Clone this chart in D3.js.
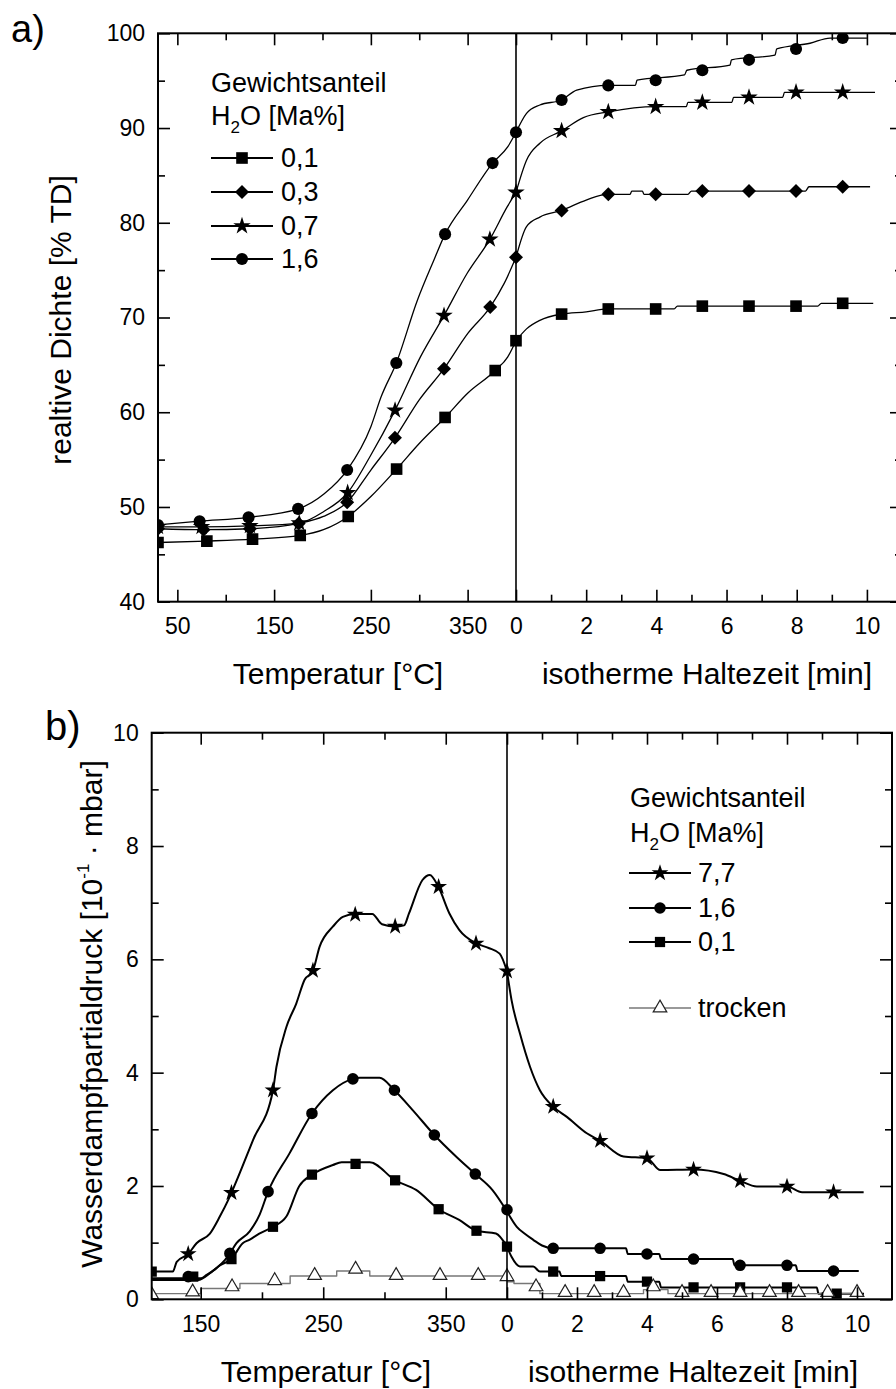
<!DOCTYPE html>
<html>
<head>
<meta charset="utf-8">
<script src="https://cdn.jsdelivr.net/npm/d3@7"></script>
<style>
  body { margin: 0; background: #fff; }
  text { font-family: Arial, "Liberation Sans", sans-serif; fill: #000; }
</style>
</head>
<body>
<div id="chart"></div>
<script>
// ---------- panel a: relative density ----------
const aTempTicks = [50, 150, 250, 350];
const aTempMinor = [100, 200, 300];
const aTimeTicks = [0, 2, 4, 6, 8, 10];
const aTimeMinor = [1, 3, 5, 7, 9];
const aYTicks = [40, 50, 60, 70, 80, 90, 100];
const aYMinor = [45, 55, 65, 75, 85, 95];
const aNames = ["0,1", "0,3", "0,7", "1,6"];

const a01Temp = [[30,46.25],[80,46.4],[128,46.6],[177,47.0],[201,47.6],[226.6,49.0],[250,51.1],[276.6,54.0],[300,56.7],[326.7,59.45],[350,62.0],[378.5,64.4],[391.5,65.85],[400,67.55]];
const a01Time = [[0,67.55],[0.3,68.8],[0.68,69.7],[1.3,70.36],[2,70.6],[2.6,70.9],[4.5,70.9],[4.6,71.2],[8.6,71.2],[8.7,71.5],[10.18,71.5]];
const a01TempMarks = [[30,46.25],[80.5,46.4],[127.7,46.6],[177,47.0],[226.6,49.0],[276.6,54.0],[326.7,59.45],[378.5,64.4]];
const a01TimeMarks = [[0,67.55],[1.3,70.36],[2.63,70.9],[3.98,70.9],[5.31,71.2],[6.64,71.2],[7.98,71.2],[9.31,71.5]];

const a03Temp = [[30,47.7],[77,47.6],[125,47.7],[175.4,48.26],[201,49.0],[225.5,50.5],[250,53.9],[274.9,57.3],[300,61.3],[325.6,64.6],[350,68.3],[373.3,71.1],[387.8,73.6],[400,76.35]];
const a03Time = [[0,76.35],[0.3,79.6],[0.68,80.6],[1.3,81.3],[2,82.4],[2.6,83.0],[3.25,83.0],[3.3,83.35],[3.6,83.35],[3.65,83.0],[4.9,83.0],[5.0,83.35],[8.25,83.35],[8.35,83.8],[10.09,83.8]];
const a03TempMarks = [[30,47.7],[77,47.6],[125,47.7],[175.4,48.26],[225.5,50.5],[274.9,57.3],[325.6,64.6],[373.3,71.1]];
const a03TimeMarks = [[0,76.35],[1.3,81.3],[2.63,83.0],[3.98,83.0],[5.31,83.35],[6.64,83.35],[7.98,83.35],[9.31,83.8]];

const a07Temp = [[30,47.9],[75,47.9],[125,48.0],[176,48.3],[201,49.5],[226,51.5],[249,55.3],[275,60.2],[301.5,65.9],[325.6,70.2],[349.7,74.7],[373,78.25],[391,81.7],[400,83.2]];
const a07Time = [[0,83.2],[0.3,86.6],[0.68,88.4],[1.3,89.7],[1.92,91.1],[2.63,91.7],[3.98,92.25],[4.85,92.25],[4.9,92.7],[6.15,92.7],[6.2,93.24],[7.6,93.24],[7.65,93.77],[10.23,93.77]];
const a07TempMarks = [[30,47.9],[75,47.9],[125,48.0],[176,48.3],[226,51.5],[275,60.2],[325.6,70.2],[373,78.25]];
const a07TimeMarks = [[0,83.2],[1.3,89.7],[2.63,91.7],[3.98,92.25],[5.31,92.7],[6.64,93.24],[7.98,93.77],[9.31,93.77]];

const a16Temp = [[30,48.1],[73,48.5],[123.6,48.9],[174.8,49.8],[201.8,51.4],[225.5,53.9],[250.1,58.5],[260.5,61.6],[276.3,65.2],[298,71.8],[315.3,76.1],[326.7,78.8],[349.9,82.4],[375.8,86.3],[391.4,88.0],[400,89.55]];
const a16Time = [[0,89.55],[0.3,91.55],[0.68,92.43],[1.3,92.96],[1.73,94.0],[2.63,94.5],[3.4,94.5],[3.45,95.05],[4.8,95.6],[4.87,96.1],[6.1,96.65],[6.14,97.2],[7.38,97.7],[7.43,98.35],[8.38,98.95],[8.95,99.5],[10.0,99.5]];
const a16TempMarks = [[30,48.1],[73,48.5],[123.6,48.9],[174.8,49.8],[225.5,53.9],[276.3,65.2],[326.7,78.8],[375.8,86.3]];
const a16TimeMarks = [[0,89.55],[1.3,92.96],[2.63,94.5],[3.98,95.05],[5.31,96.1],[6.64,97.2],[7.98,98.35],[9.31,99.5]];

// ---------- panel b: water vapour partial pressure ----------
const bTempTicks = [150, 250, 350];
const bTempMinor = [200, 300];
const bTimeTicks = [0, 2, 4, 6, 8, 10];
const bTimeMinor = [1, 3, 5, 7, 9];
const bYTicks = [0, 2, 4, 6, 8, 10];
const bYMinor = [1, 3, 5, 7, 9];
const bNames = ["7,7", "1,6", "0,1", "trocken"];

const b77Temp = [[110,0.49],[127.3,0.49],[130.4,0.66],[139.8,0.8],[146.6,0.99],[157.5,1.16],[165.6,1.46],[172.4,1.75],[175.1,1.88],[192.7,2.81],[209,3.69],[211.8,4.1],[220,4.81],[228,5.22],[234.8,5.64],[241.6,5.8],[247,6.22],[258,6.58],[266,6.75],[276,6.8],[290,6.8],[298,6.62],[309,6.58],[316,6.6],[320,6.81],[331,7.4],[337,7.49],[344,7.28],[353,6.81],[361,6.52],[375,6.28],[385,6.2],[394,6.1],[400,5.79]];
const b77Time = [[0,5.79],[0.13,5.28],[0.37,4.69],[0.66,4.1],[0.94,3.69],[1.32,3.40],[1.71,3.22],[2.28,2.93],[2.66,2.80],[3.33,2.52],[4.0,2.49],[4.38,2.28],[5.33,2.29],[6.19,2.21],[6.66,2.09],[7.14,1.99],[8.0,1.99],[8.43,1.89],[9.33,1.89],[10.19,1.89]];
const b77TempMarks = [[139.8,0.8],[175.1,1.88],[209,3.69],[241.6,5.8],[276.1,6.79],[308.7,6.58],[344.2,7.28],[374.7,6.28]];
const b77TimeMarks = [[0,5.79],[1.32,3.40],[2.66,2.80],[4.0,2.49],[5.33,2.29],[6.66,2.09],[8.0,1.99],[9.33,1.89]];

const b16Temp = [[110,0.37],[150,0.37],[154.8,0.43],[162.9,0.55],[169.7,0.69],[173.8,0.81],[179.2,0.99],[190,1.2],[198.2,1.5],[205,1.9],[222.6,2.58],[240.8,3.28],[257.9,3.69],[274.2,3.89],[280,3.91],[296,3.91],[308.1,3.69],[323,3.34],[340.7,2.9],[358.4,2.52],[374.1,2.21],[388,1.93],[400,1.55]];
const b16Time = [[0,1.55],[0.28,1.28],[0.5,1.16],[0.75,1.05],[1.0,0.95],[1.32,0.9],[3.4,0.9],[3.45,0.8],[4.35,0.8],[4.4,0.71],[6.45,0.71],[6.5,0.6],[8.25,0.6],[8.3,0.5],[10.05,0.5]];
const b16TempMarks = [[139.8,0.4],[173.8,0.81],[205,1.9],[240.8,3.28],[274.2,3.89],[308.1,3.69],[340.7,2.9],[374.1,2.21]];
const b16TimeMarks = [[0,1.58],[1.32,0.9],[2.66,0.9],[4.0,0.8],[5.33,0.71],[6.66,0.6],[8.0,0.6],[9.33,0.5]];

const b01Temp = [[110,0.34],[148,0.34],[157.5,0.46],[165.6,0.6],[175.1,0.71],[184.3,0.99],[189.7,1.05],[197.8,1.16],[209,1.28],[219.9,1.46],[230.5,2.0],[240.8,2.2],[257.9,2.37],[265,2.42],[288,2.42],[308.7,2.1],[325.8,1.93],[344.2,1.59],[361,1.4],[375.1,1.21],[391,1.16],[400,0.93]];
const b01Time = [[0,0.93],[0.13,0.75],[0.37,0.58],[0.75,0.58],[0.94,0.49],[1.5,0.49],[1.55,0.41],[3.4,0.41],[3.45,0.31],[4.35,0.31],[4.4,0.21],[8.85,0.21],[8.9,0.1],[10.2,0.1]];
const b01TempMarks = [[110,0.49],[143.9,0.4],[175.1,0.71],[209,1.28],[240.8,2.2],[276.4,2.39],[308.7,2.1],[344.2,1.59],[375.1,1.21]];
const b01TimeMarks = [[0,0.93],[1.32,0.49],[2.66,0.41],[4.0,0.31],[5.33,0.21],[6.66,0.21],[8.0,0.21],[9.42,0.1]];

const bDryTemp = [[110,0.1],[150,0.19],[182,0.28],[223,0.41],[261,0.5],[288,0.41],[400,0.41]];
const bDryTime = [[0,0.31],[0.2,0.28],[0.94,0.1],[3.9,0.17],[4.6,0.1],[10.1,0.1]];
const bDryTempMarks = [[110,0.08],[143.4,0.13],[175.6,0.22],[210.4,0.33],[243,0.42],[276.4,0.53],[309.5,0.42],[345.3,0.42],[376.5,0.42]];
const bDryTimeMarks = [[0,0.4],[0.83,0.22],[1.66,0.12],[2.49,0.12],[3.33,0.12],[4.18,0.22],[5.0,0.12],[5.83,0.12],[6.66,0.12],[7.5,0.12],[8.33,0.12],[9.16,0.12],[10.0,0.12]];

const W = 896, H = 1389;
const FONT = 'Arial, "Liberation Sans", sans-serif';

const svg = d3.select("#chart").append("svg")
    .attr("width", W)
    .attr("height", H)
    .style("display", "block");

svg.append("rect").attr("width", W).attr("height", H).attr("fill", "#fff");

const symbolTypes = {
    square: d3.symbolSquare,
    diamond: d3.symbolSquare,
    star: d3.symbolStar,
    circle: d3.symbolCircle,
    triangle: d3.symbolTriangle
};

function AddMarker(g, shape, x, y, size) {
    const p = g.append("path")
        .attr("d", d3.symbol().type(symbolTypes[shape]).size(size)())
        .attr("transform", `translate(${x},${y})` + (shape === "diamond" ? " rotate(45)" : ""));
    if (shape === "triangle") {
        p.attr("fill", "#fff").attr("stroke", "#222").attr("stroke-width", 1.2);
    } else {
        p.attr("fill", "#000");
    }
};

function StyleAxis(g, fontSize) {
    g.select(".domain").remove();
    g.selectAll(".tick line").attr("stroke", "#000").attr("stroke-width", 1.6);
    g.selectAll(".tick text").attr("font-size", fontSize).attr("font-family", FONT).attr("fill", "#000");
};

function DrawTicks(g, axis, transform, fontSize) {
    g.append("g")
        .attr("transform", transform)
        .call(axis)
        .call(a => StyleAxis(a, fontSize));
};

function DrawPanel(p) {
    const xT = d3.scaleLinear().domain(p.tempDomain).range([p.left, p.div]);
    const xt = d3.scaleLinear().domain(p.timeDomain).range([p.div, p.right]);
    const y = d3.scaleLinear().domain(p.yDomain).range([p.bottom, p.top]);

    const g = svg.append("g");
    const clipId = "clip-" + p.id;
    svg.append("clipPath").attr("id", clipId)
        .append("rect")
        .attr("x", p.left).attr("y", p.top)
        .attr("width", p.right - p.left).attr("height", p.bottom - p.top);

    const plot = g.append("g").attr("clip-path", `url(#${clipId})`);

    p.series.forEach(s => {
        const lineT = d3.line().x(d => xT(d[0])).y(d => y(d[1])).curve(s.curve);
        const linet = d3.line().x(d => xt(d[0])).y(d => y(d[1])).curve(s.curve);
        [lineT(s.tempLine), linet(s.timeLine)].forEach(d => {
            plot.append("path")
                .attr("d", d)
                .attr("fill", "none")
                .attr("stroke", s.color)
                .attr("stroke-width", s.width)
                .attr("stroke-linejoin", "round");
        });
    });

    p.series.forEach(s => {
        s.tempMarks.forEach(d => AddMarker(plot, s.shape, xT(d[0]), y(d[1]), s.size));
        s.timeMarks.forEach(d => AddMarker(plot, s.shape, xt(d[0]), y(d[1]), s.size));
    });

    const fs = p.tickFont;
    // bottom axes with labels, ticks pointing inwards
    DrawTicks(g, d3.axisBottom(xT).tickValues(p.tempTicks).tickSize(-12).tickPadding(16), `translate(0,${p.bottom})`, fs);
    DrawTicks(g, d3.axisBottom(xT).tickValues(p.tempMinor).tickSize(-7).tickFormat(""), `translate(0,${p.bottom})`, fs);
    DrawTicks(g, d3.axisBottom(xt).tickValues(p.timeTicks).tickSize(-12).tickPadding(16), `translate(0,${p.bottom})`, fs);
    DrawTicks(g, d3.axisBottom(xt).tickValues(p.timeMinor).tickSize(-7).tickFormat(""), `translate(0,${p.bottom})`, fs);
    // top mirror
    DrawTicks(g, d3.axisTop(xT).tickValues(p.tempTicks).tickSize(-12).tickFormat(""), `translate(0,${p.top})`, fs);
    DrawTicks(g, d3.axisTop(xT).tickValues(p.tempMinor).tickSize(-7).tickFormat(""), `translate(0,${p.top})`, fs);
    DrawTicks(g, d3.axisTop(xt).tickValues(p.timeTicks).tickSize(-12).tickFormat(""), `translate(0,${p.top})`, fs);
    DrawTicks(g, d3.axisTop(xt).tickValues(p.timeMinor).tickSize(-7).tickFormat(""), `translate(0,${p.top})`, fs);
    // left / right
    DrawTicks(g, d3.axisLeft(y).tickValues(p.yTicks).tickSize(-12).tickPadding(13), `translate(${p.left},0)`, fs);
    DrawTicks(g, d3.axisLeft(y).tickValues(p.yMinor).tickSize(-7).tickFormat(""), `translate(${p.left},0)`, fs);
    DrawTicks(g, d3.axisRight(y).tickValues(p.yTicks).tickSize(-12).tickFormat(""), `translate(${p.right},0)`, fs);
    DrawTicks(g, d3.axisRight(y).tickValues(p.yMinor).tickSize(-7).tickFormat(""), `translate(${p.right},0)`, fs);

    // frame and divider between heating and isothermal part
    g.append("rect")
        .attr("x", p.left).attr("y", p.top)
        .attr("width", p.right - p.left).attr("height", p.bottom - p.top)
        .attr("fill", "none").attr("stroke", "#000").attr("stroke-width", 2);
    g.append("line")
        .attr("x1", p.div).attr("x2", p.div)
        .attr("y1", p.top).attr("y2", p.bottom)
        .attr("stroke", "#000").attr("stroke-width", 1.6);

    // axis titles
    g.append("text").attr("x", p.tempTitleX).attr("y", p.titleY)
        .attr("text-anchor", "middle").attr("font-size", 30).text("Temperatur [°C]");
    g.append("text").attr("x", p.timeTitleX).attr("y", p.titleY)
        .attr("text-anchor", "middle").attr("font-size", 30).text("isotherme Haltezeit [min]");

    const yt = g.append("text")
        .attr("transform", `translate(${p.yTitleX},${p.yTitleY}) rotate(-90)`)
        .attr("text-anchor", "middle").attr("font-size", 30);
    p.yTitle.forEach(part => {
        const ts = yt.append("tspan").text(part.t);
        if (part.sup) ts.attr("font-size", 17).attr("dy", -13);
        if (part.down) ts.attr("dy", 13);
    });

    g.append("text").attr("x", p.letterX).attr("y", p.letterY)
        .attr("font-size", p.letterSize).text(p.letter);

    // legend
    const L = p.legend;
    g.append("text").attr("x", L.textLeft).attr("y", L.titleY[0]).attr("font-size", 27).text("Gewichtsanteil");
    const h2o = g.append("text").attr("x", L.textLeft).attr("y", L.titleY[1]).attr("font-size", 27);
    h2o.append("tspan").text("H");
    h2o.append("tspan").attr("font-size", 17).attr("dy", 8).text("2");
    h2o.append("tspan").attr("dy", -8).text("O [Ma%]");

    L.rows.forEach((ry, i) => {
        const s = p.series[L.order[i]];
        g.append("line")
            .attr("x1", L.x1).attr("x2", L.x2).attr("y1", ry).attr("y2", ry)
            .attr("stroke", s.color).attr("stroke-width", s.shape === "triangle" ? 1.3 : 1.8);
        AddMarker(g, s.shape, L.xm, ry, s.size);
        g.append("text").attr("x", L.xt).attr("y", ry + 9).attr("font-size", 27).text(L.names[i]);
    });
};

const smooth = d3.curveMonotoneX;

DrawPanel({
    id: "a",
    left: 158, div: 516, right: 902, top: 33.3, bottom: 601.7,
    tempDomain: [30, 400], timeDomain: [0, 11], yDomain: [40, 100],
    tempTicks: aTempTicks, tempMinor: aTempMinor,
    timeTicks: aTimeTicks, timeMinor: aTimeMinor,
    yTicks: aYTicks, yMinor: aYMinor,
    tickFont: 23,
    series: [
        { tempLine: a01Temp, timeLine: a01Time, tempMarks: a01TempMarks, timeMarks: a01TimeMarks, shape: "square", size: 135, color: "#000", width: 1.3, curve: smooth },
        { tempLine: a03Temp, timeLine: a03Time, tempMarks: a03TempMarks, timeMarks: a03TimeMarks, shape: "diamond", size: 98, color: "#000", width: 1.3, curve: smooth },
        { tempLine: a07Temp, timeLine: a07Time, tempMarks: a07TempMarks, timeMarks: a07TimeMarks, shape: "star", size: 95, color: "#000", width: 1.3, curve: smooth },
        { tempLine: a16Temp, timeLine: a16Time, tempMarks: a16TempMarks, timeMarks: a16TimeMarks, shape: "circle", size: 115, color: "#000", width: 1.3, curve: smooth }
    ],
    tempTitleX: 338, timeTitleX: 707, titleY: 684,
    yTitle: [{ t: "realtive Dichte [% TD]" }],
    yTitleX: 71, yTitleY: 320,
    letter: "a)", letterX: 11, letterY: 42, letterSize: 38,
    legend: {
        textLeft: 211, titleY: [92, 125],
        rows: [158, 192, 226, 259], order: [0, 1, 2, 3], names: aNames,
        x1: 211, x2: 273, xm: 242, xt: 281
    }
});

DrawPanel({
    id: "b",
    left: 151.7, div: 507, right: 892, top: 732.7, bottom: 1299.3,
    tempDomain: [110, 400], timeDomain: [0, 11], yDomain: [0, 10],
    tempTicks: bTempTicks, tempMinor: bTempMinor,
    timeTicks: bTimeTicks, timeMinor: bTimeMinor,
    yTicks: bYTicks, yMinor: bYMinor,
    tickFont: 23,
    series: [
        { tempLine: b77Temp, timeLine: b77Time, tempMarks: b77TempMarks, timeMarks: b77TimeMarks, shape: "star", size: 88, color: "#000", width: 2, curve: smooth },
        { tempLine: b16Temp, timeLine: b16Time, tempMarks: b16TempMarks, timeMarks: b16TimeMarks, shape: "circle", size: 105, color: "#000", width: 2, curve: smooth },
        { tempLine: b01Temp, timeLine: b01Time, tempMarks: b01TempMarks, timeMarks: b01TimeMarks, shape: "square", size: 105, color: "#000", width: 2, curve: smooth },
        { tempLine: bDryTemp, timeLine: bDryTime, tempMarks: bDryTempMarks, timeMarks: bDryTimeMarks, shape: "triangle", size: 80, color: "#777", width: 1.4, curve: d3.curveStepAfter }
    ],
    tempTitleX: 326, timeTitleX: 693, titleY: 1382,
    yTitle: [{ t: "Wasserdampfpartialdruck [10" }, { t: "-1", sup: true }, { t: " · mbar]", down: true }],
    yTitleX: 102, yTitleY: 1014,
    letter: "b)", letterX: 45, letterY: 740, letterSize: 40,
    legend: {
        textLeft: 630, titleY: [807, 842],
        rows: [873, 908, 942, 1008], order: [0, 1, 2, 3], names: bNames,
        x1: 629, x2: 691, xm: 660, xt: 698
    }
});
</script>
</body>
</html>
